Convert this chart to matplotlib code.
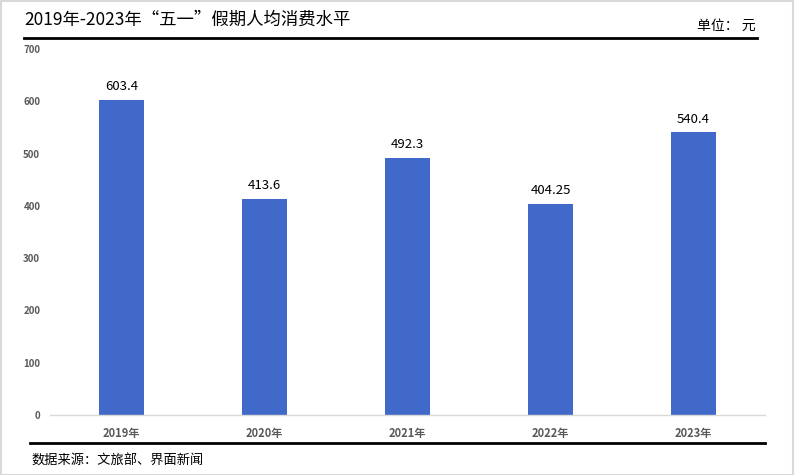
import matplotlib.pyplot as plt
from matplotlib.patches import Rectangle
from matplotlib.lines import Line2D

plt.rcParams['font.family'] = ['Noto Sans CJK SC', 'DejaVu Sans']

years = ['2019年', '2020年', '2021年', '2022年', '2023年']
spend = [603.4, 413.6, 492.3, 404.25, 540.4]
labels = ['603.4', '413.6', '492.3', '404.25', '540.4']
yticks = [0, 100, 200, 300, 400, 500, 600, 700]

W, H = 795, 475
fig = plt.figure(figsize=(W / 100, H / 100), dpi=100)

# light frame around the whole picture
fig.add_artist(Rectangle((0.001, 0.001), 0.997, 0.997, transform=fig.transFigure,
                         fill=False, edgecolor='#d9d9d9', linewidth=1.5))

ax = fig.add_axes([50 / W, 60 / H, 715 / W, 366 / H])
x = range(len(years))
ax.bar(x, spend, width=0.31, color='#4169C9', zorder=2)
for xi, v, t in zip(x, spend, labels):
    ax.text(xi, v + 12, t, ha='center', va='bottom', fontsize=9.5, color='black')

ax.set_xlim(-0.5, len(years) - 0.5)
ax.set_ylim(0, 700)
ax.set_yticks(yticks)
ax.set_yticklabels([str(t) for t in yticks], fontsize=7, fontweight='bold', color='#595959')
ax.set_xticks(list(x))
ax.set_xticklabels(years, fontsize=8, fontweight='bold', color='#595959')
ax.tick_params(length=0)
ax.tick_params(axis='y', pad=7)
ax.tick_params(axis='x', pad=9)
for s in ['top', 'right', 'left']:
    ax.spines[s].set_visible(False)
ax.spines['bottom'].set_color('#d9d9d9')
ax.spines['bottom'].set_linewidth(1)

# title, unit and header/footer rules
fig.text(24 / W, 1 - 20 / H, '2019年-2023年“五一”假期人均消费水平', fontsize=12.5,
         ha='left', va='center', color='black')
fig.text(756 / W, 1 - 26 / H, '单位： 元', fontsize=10, ha='right', va='center', color='black')
fig.add_artist(Line2D([24 / W, 757 / W], [1 - 38 / H, 1 - 38 / H], transform=fig.transFigure,
                      color='black', linewidth=2))
fig.add_artist(Line2D([30 / W, 765 / W], [1 - 443 / H, 1 - 443 / H], transform=fig.transFigure,
                      color='black', linewidth=2))
fig.text(31 / W, 1 - 461 / H, '数据来源：文旅部、界面新闻', fontsize=9.5, ha='left', va='center',
         color='black')

fig.savefig('out.png', dpi=100)
